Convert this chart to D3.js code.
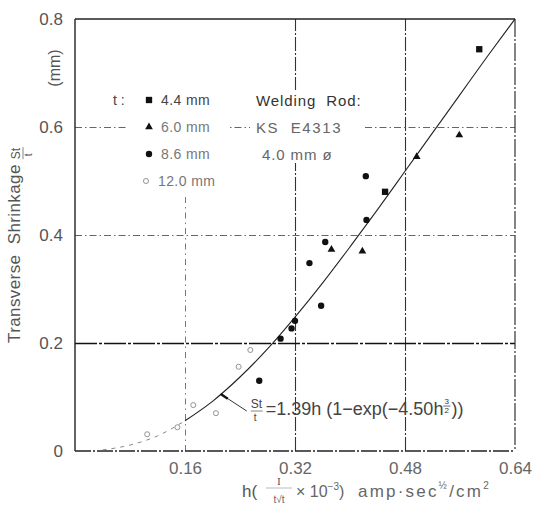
<!DOCTYPE html>
<html>
<head>
<meta charset="utf-8">
<script src="https://cdn.jsdelivr.net/npm/d3@7"></script>
<style>
  body { margin: 0; background: #fff; }
  svg { display: block; font-family: "Liberation Sans", Arial, sans-serif; }
</style>
</head>
<body>
<svg id="chart" width="534" height="519"></svg>
<script>
// Valores: h (eje x) y St/t en mm (eje y)
const xTicks = [0.16, 0.32, 0.48, 0.64];
const yTicks = [0, 0.2, 0.4, 0.6, 0.8];

// t = 4.4 mm (cuadrados)
const sqH = [0.451, 0.588];
const sqS = [0.480, 0.744];
// t = 6.0 mm (triangulos)
const triH = [0.373, 0.418, 0.497, 0.559];
const triS = [0.373, 0.370, 0.545, 0.585];
// t = 8.6 mm (circulos llenos)
const dotH = [0.268, 0.299, 0.315, 0.320, 0.341, 0.358, 0.364, 0.423, 0.424];
const dotS = [0.130, 0.208, 0.227, 0.241, 0.348, 0.269, 0.387, 0.509, 0.428];
// t = 12.0 mm (circulos abiertos)
const openH = [0.105, 0.149, 0.172, 0.205, 0.238, 0.255];
const openS = [0.031, 0.044, 0.085, 0.070, 0.156, 0.187];

// curva ajustada St/t = 1.39h(1-exp(-4.50h^3/2)), puntos leidos sobre la linea
const curveH = [0.04, 0.08, 0.12, 0.16, 0.20, 0.24, 0.28, 0.32, 0.36, 0.40, 0.44, 0.48, 0.52, 0.56, 0.60, 0.64];
const curveS = [0.002, 0.011, 0.028, 0.056, 0.092, 0.137, 0.189, 0.248, 0.311, 0.378, 0.447, 0.518, 0.589, 0.660, 0.731, 0.800];
const dashedUntil = 0.16; // antes de esto la curva va punteada

const legendLabels = ["4.4 mm", "6.0 mm", "8.6 mm", "12.0 mm"];
const rodLabels = ["Welding  Rod:", "KS  E4313", "4.0 mm ø"];

const svg = d3.select("#chart");
const pL = 75, pR = 515, pT = 19, pB = 451;

const x = d3.scaleLinear().domain([0, 0.64]).range([pL, pR]);
const y = d3.scaleLinear().domain([0, 0.8]).range([pB, pT]);

// estilo de cada linea de la rejilla (papel escaneado)
function gridX(d) {
  if (d === 0.32 || d === 0.48) return {c: "#333", w: 1.1, dash: "14,2,2,2"};
  if (d === 0.16) return {c: "#777", w: 1, dash: "6,4,1.5,4"};
  return {c: "none", w: 0, dash: null};
}
function gridY(d) {
  if (d === 0.2) return {c: "#111", w: 1.7, dash: "22,2,3,2"};
  if (d === 0.4 || d === 0.6) return {c: "#666", w: 1, dash: "7,3,1.5,3"};
  return {c: "none", w: 0, dash: null};
}

const gx = svg.append("g")
  .attr("transform", `translate(0,${pB})`)
  .call(d3.axisBottom(x).tickValues(xTicks).tickSize(-(pB - pT)).tickPadding(11)
    .tickFormat(d3.format(".2f")));
gx.select(".domain").remove();
gx.selectAll(".tick line")
  .attr("stroke", d => gridX(d).c).attr("stroke-width", d => gridX(d).w)
  .attr("stroke-dasharray", d => gridX(d).dash);
gx.selectAll(".tick text")
  .attr("font-family", "Liberation Sans, Arial, sans-serif")
  .attr("font-size", 17).attr("fill", "#666");

const gy = svg.append("g")
  .attr("transform", `translate(${pL},0)`)
  .call(d3.axisLeft(y).tickValues(yTicks).tickSize(-(pR - pL)).tickPadding(12)
    .tickFormat(d => d === 0 ? "0" : d3.format(".1f")(d)));
gy.select(".domain").remove();
gy.selectAll(".tick line")
  .attr("stroke", d => gridY(d).c).attr("stroke-width", d => gridY(d).w)
  .attr("stroke-dasharray", d => gridY(d).dash);
gy.selectAll(".tick text")
  .attr("font-family", "Liberation Sans, Arial, sans-serif")
  .attr("font-size", 17).attr("fill", "#555");

// fondo blanco detras de la leyenda (tapa la rejilla)
svg.append("rect").attr("x", 128).attr("y", pT + 1).attr("width", 100).attr("height", 176).attr("fill", "#fff");
svg.append("rect").attr("x", 250).attr("y", 90).attr("width", 112).attr("height", 73).attr("fill", "#fff");

// marco
svg.append("line").attr("x1", pL).attr("x2", pR).attr("y1", pT).attr("y2", pT)
  .attr("stroke", "#222").attr("stroke-width", 1.4);
svg.append("line").attr("x1", pL).attr("x2", pL).attr("y1", pT).attr("y2", pB)
  .attr("stroke", "#222").attr("stroke-width", 1.4);
svg.append("line").attr("x1", pR).attr("x2", pR).attr("y1", pT).attr("y2", pB)
  .attr("stroke", "#333").attr("stroke-width", 1.2).attr("stroke-dasharray", "18,2,2,2");
svg.append("line").attr("x1", pL).attr("x2", pR).attr("y1", pB).attr("y2", pB)
  .attr("stroke", "#222").attr("stroke-width", 1.6).attr("stroke-dasharray", "16,2,2,2");

// curva
const curvePts = curveH.map((h, i) => ({h: h, s: curveS[i]}));
const line = d3.line().x(d => x(d.h)).y(d => y(d.s)).curve(d3.curveMonotoneX);
svg.append("path")
  .attr("d", line(curvePts.filter(d => d.h <= dashedUntil)))
  .attr("fill", "none").attr("stroke", "#888").attr("stroke-width", 1)
  .attr("stroke-dasharray", "4,5");
svg.append("path")
  .attr("d", line(curvePts.filter(d => d.h >= dashedUntil)))
  .attr("fill", "none").attr("stroke", "#222").attr("stroke-width", 1.1);

// series de puntos
const series = [
  {label: legendLabels[0], h: sqH, s: sqS, type: d3.symbolSquare, size: 40, fill: "#111", stroke: "none"},
  {label: legendLabels[1], h: triH, s: triS, type: d3.symbolTriangle, size: 26, fill: "#111", stroke: "none"},
  {label: legendLabels[2], h: dotH, s: dotS, type: d3.symbolCircle, size: 32, fill: "#111", stroke: "none"},
  {label: legendLabels[3], h: openH, s: openS, type: d3.symbolCircle, size: 20, fill: "none", stroke: "#888"}
];

series.forEach(function(ser) {
  svg.append("g").selectAll("path")
    .data(ser.h.map((h, i) => ({h: h, s: ser.s[i]})))
    .enter().append("path")
    .attr("transform", d => `translate(${x(d.h)},${y(d.s)})`)
    .attr("d", d3.symbol().type(ser.type).size(ser.size))
    .attr("fill", ser.fill).attr("stroke", ser.stroke).attr("stroke-width", 0.9);
});

// leyenda
const legX = 149, legY = 100, legDy = 27;
svg.append("text").attr("x", 113).attr("y", legY + 5).attr("font-size", 14).attr("fill", "#444").text("t :");
series.forEach(function(ser, i) {
  const dx = i === 3 ? -3 : 0;
  svg.append("path")
    .attr("transform", `translate(${legX + dx},${legY + i * legDy})`)
    .attr("d", d3.symbol().type(ser.type).size(ser.size))
    .attr("fill", ser.fill).attr("stroke", ser.stroke).attr("stroke-width", 0.9);
  svg.append("text")
    .attr("x", legX + 12 + dx).attr("y", legY + i * legDy + 5)
    .attr("font-size", 14).attr("fill", i === 0 ? "#444" : "#777")
    .attr("letter-spacing", 0.4)
    .text(ser.label);
});
rodLabels.forEach(function(t, i) {
  svg.append("text")
    .attr("x", i === 2 ? 262 : 256).attr("y", legY + 6 + i * legDy)
    .attr("font-size", 15).attr("fill", i === 0 ? "#333" : "#666")
    .attr("letter-spacing", i === 1 ? 1.6 : 0.9)
    .attr("xml:space", "preserve")
    .text(t);
});

// anotacion de la formula
const curveAt = d3.scaleLinear().domain(curveH).range(curveS);
const hNote = 0.212;
const nx = x(hNote), ny = y(curveAt(hNote));
svg.append("line").attr("x1", nx).attr("y1", ny).attr("x2", nx + 26).attr("y2", ny + 17)
  .attr("stroke", "#333").attr("stroke-width", 1);
svg.append("line").attr("x1", nx).attr("y1", ny).attr("x2", nx + 7).attr("y2", ny + 4.6)
  .attr("stroke", "#111").attr("stroke-width", 2.4);

const fx = nx + 30, fy = ny + 20;
svg.append("text").attr("x", fx).attr("y", fy - 6).attr("font-size", 12).attr("fill", "#444").text("St");
svg.append("line").attr("x1", fx).attr("x2", fx + 12).attr("y1", fy - 3).attr("y2", fy - 3)
  .attr("stroke", "#666").attr("stroke-width", 0.8);
svg.append("text").attr("x", fx + 3).attr("y", fy + 7).attr("font-size", 10).attr("fill", "#444").text("t");
const fMain = svg.append("text").attr("x", fx + 15).attr("y", fy + 1)
  .attr("font-size", 18).attr("fill", "#444").attr("xml:space", "preserve")
  .text("=1.39h (1−exp(−4.50h");
const fLen = fMain.node().getComputedTextLength();
const ex = fx + 15 + fLen;
svg.append("text").attr("x", ex + 1).attr("y", fy - 10).attr("font-size", 8).attr("fill", "#333").text("3");
svg.append("line").attr("x1", ex).attr("x2", ex + 7).attr("y1", fy - 8).attr("y2", fy - 8)
  .attr("stroke", "#444").attr("stroke-width", 0.8);
svg.append("text").attr("x", ex + 1).attr("y", fy - 1).attr("font-size", 8).attr("fill", "#333").text("2");
svg.append("text").attr("x", ex + 8).attr("y", fy + 1).attr("font-size", 18).attr("fill", "#444").text("))");

// titulo eje y
const yt = svg.append("g").attr("transform", "translate(20,343) rotate(-90)");
const ytMain = yt.append("text").attr("x", 0).attr("y", 0)
  .attr("font-size", 17).attr("fill", "#555").attr("xml:space", "preserve")
  .attr("letter-spacing", 0.4)
  .text("Transverse  Shrinkage");
const ytLen = ytMain.node().getComputedTextLength();
yt.append("text").attr("x", ytLen + 5).attr("y", 0).attr("font-size", 12).attr("fill", "#555").text("St");
yt.append("line").attr("x1", ytLen + 5).attr("x2", ytLen + 17).attr("y1", 3).attr("y2", 3)
  .attr("stroke", "#666").attr("stroke-width", 0.8);
yt.append("text").attr("x", ytLen + 8).attr("y", 12).attr("font-size", 10).attr("fill", "#555").text("t");
svg.append("text").attr("transform", "translate(60,68) rotate(-90)")
  .attr("text-anchor", "middle").attr("font-size", 16).attr("fill", "#555").text("(mm)");

// titulo eje x
const xtY = 497;
svg.append("text").attr("x", 242).attr("y", xtY).attr("font-size", 17).attr("fill", "#555").text("h(");
svg.append("text").attr("x", 279).attr("y", 485).attr("text-anchor", "middle")
  .attr("font-size", 10).attr("font-family", "Liberation Serif, serif").attr("fill", "#444").text("I");
svg.append("line").attr("x1", 266).attr("x2", 292).attr("y1", 488).attr("y2", 488)
  .attr("stroke", "#aaa").attr("stroke-width", 0.8);
svg.append("text").attr("x", 279).attr("y", 503).attr("text-anchor", "middle")
  .attr("font-size", 10).attr("fill", "#666").text("t√t");
const xt2 = svg.append("text").attr("x", 296).attr("y", xtY).attr("font-size", 16).attr("fill", "#666");
xt2.append("tspan").text("× 10");
xt2.append("tspan").attr("dy", -7).attr("font-size", 10).text("−3");
xt2.append("tspan").attr("dy", 7).text(")");
const xt3 = svg.append("text").attr("x", 358).attr("y", xtY).attr("font-size", 17)
  .attr("fill", "#666").attr("letter-spacing", 2.2);
xt3.append("tspan").text("amp·sec");
xt3.append("tspan").attr("dy", -8).attr("font-size", 10).text("½");
xt3.append("tspan").attr("dy", 8).text("/cm");
xt3.append("tspan").attr("dy", -8).attr("font-size", 10).text("2");
</script>
</body>
</html>
